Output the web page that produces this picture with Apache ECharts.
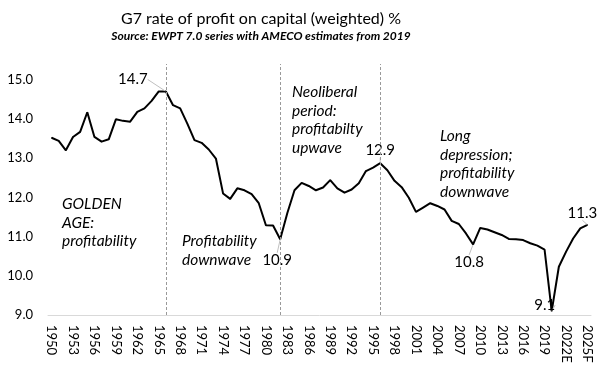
<!DOCTYPE html>
<html>
<head>
<meta charset="utf-8">
<script src="https://cdn.jsdelivr.net/npm/echarts@6/dist/echarts.min.js"></script>
<style>html,body{margin:0;padding:0;background:#fff;}#c{width:600px;height:368px;}</style>
</head>
<body>
<div id="c"></div>
<script>
var years = ['1950','1951','1952','1953','1954','1955','1956','1957','1958','1959',
'1960','1961','1962','1963','1964','1965','1966','1967','1968','1969',
'1970','1971','1972','1973','1974','1975','1976','1977','1978','1979',
'1980','1981','1982','1983','1984','1985','1986','1987','1988','1989',
'1990','1991','1992','1993','1994','1995','1996','1997','1998','1999',
'2000','2001','2002','2003','2004','2005','2006','2007','2008','2009',
'2010','2011','2012','2013','2014','2015','2016','2017','2018','2019',
'2020','2021','2022E','2023F','2024F','2025F'];
var profitRate = [13.52,13.44,13.2,13.54,13.67,14.17,13.54,13.42,13.48,13.99,
13.95,13.93,14.18,14.27,14.46,14.7,14.7,14.35,14.27,13.88,
13.46,13.39,13.22,12.99,12.1,11.96,12.23,12.18,12.08,11.85,
11.29,11.28,10.93,11.6,12.18,12.37,12.29,12.18,12.25,12.44,
12.23,12.12,12.2,12.36,12.67,12.76,12.87,12.69,12.42,12.26,
11.99,11.63,11.74,11.85,11.78,11.69,11.4,11.32,11.08,10.8,
11.22,11.18,11.11,11.04,10.94,10.93,10.91,10.83,10.77,10.67,
9.1,10.23,10.61,10.95,11.21,11.3];
var labelledYears = ['1966','1982','1996','2009','2020','2025F'];
var periodBreaks = ['1966','1982','1996'];
var yTicks = [9,10,11,12,13,14,15];
var titleText = 'G7 rate of profit on capital (weighted) %';
var subtitleText = 'Source: EWPT 7.0 series with AMECO estimates from 2019';
var annotations = [
  ['GOLDEN','AGE:','profitability'],
  ['Profitability','downwave'],
  ['Neoliberal','period:','profitabilty','upwave'],
  ['Long','depression;','profitability','downwave']
];

var FONT = 'Lato';
// label shifts (pixels) relative to default 'top' position, by year
var labelShift = {'1966':[-33,1],'1982':[-3,34],'1996':[0,0],'2009':[-4,31],'2020':[-7,7],'2025F':[-5,1]};
var annoPos = [[62,204],[182,241],[292,92],[440,136]];

var seriesData = profitRate.map(function(v,i){
  var show = labelledYears.indexOf(years[i]) >= 0;
  return {value: v, label: {show: show}};
});

var graphics = [
  {type:'text', x:261, y:19, style:{text:titleText, font:'16px '+FONT, fill:'#000', align:'center', verticalAlign:'middle'}},
  {type:'text', x:261, y:36, style:{text:subtitleText, font:'italic bold 12px '+FONT, fill:'#000', align:'center', verticalAlign:'middle'}}
];
annotations.forEach(function(lines, k){
  lines.forEach(function(t, j){
    graphics.push({type:'text', x:annoPos[k][0], y:annoPos[k][1] + j*18.6,
      style:{text:t, font:'italic 15.5px '+FONT, fill:'#000', align:'left', verticalAlign:'middle'}});
  });
});

var chart = echarts.init(document.getElementById('c'));
chart.setOption({
  animation:false,
  grid:{left:48, right:9, top:64, bottom:53, containLabel:false},
  xAxis:{type:'category', data:years, boundaryGap:true,
    axisLine:{lineStyle:{color:'#d9d9d9', width:1}},
    axisTick:{show:false},
    axisLabel:{interval:2, rotate:-90, margin:10, fontSize:13, fontFamily:FONT, color:'#000'}
  },
  yAxis:{type:'value', min:yTicks[0], max:15.4, interval:1,
    axisLine:{show:false}, axisTick:{show:false}, splitLine:{show:false},
    axisLabel:{showMaxLabel:false, margin:15, fontSize:13, fontFamily:FONT, color:'#000',
      formatter:function(v){return v.toFixed(1);}}
  },
  graphic: graphics,
  series:[{
    type:'line', data:seriesData, symbol:'circle', symbolSize:1, showSymbol:true, showAllSymbol:true,
    itemStyle:{color:'#000'},
    lineStyle:{color:'#000', width:2},
    label:{position:'top', fontSize:15, fontFamily:FONT, color:'#000',
      formatter:function(p){return p.value.toFixed(1);}},
    labelLine:{show:true, smooth:false, lineStyle:{color:'#bfbfbf', width:1}},
    labelLayout:function(p){
      var s = labelShift[years[p.dataIndex]];
      if(!s) return {};
      return {dx:s[0], dy:s[1]};
    },
    markLine:{silent:true, symbol:['none','none'], label:{show:false},
      lineStyle:{type:[3,2], color:'#999', width:1},
      data: periodBreaks.map(function(y){return {xAxis:y};})
    }
  }]
});
</script>
</body>
</html>
